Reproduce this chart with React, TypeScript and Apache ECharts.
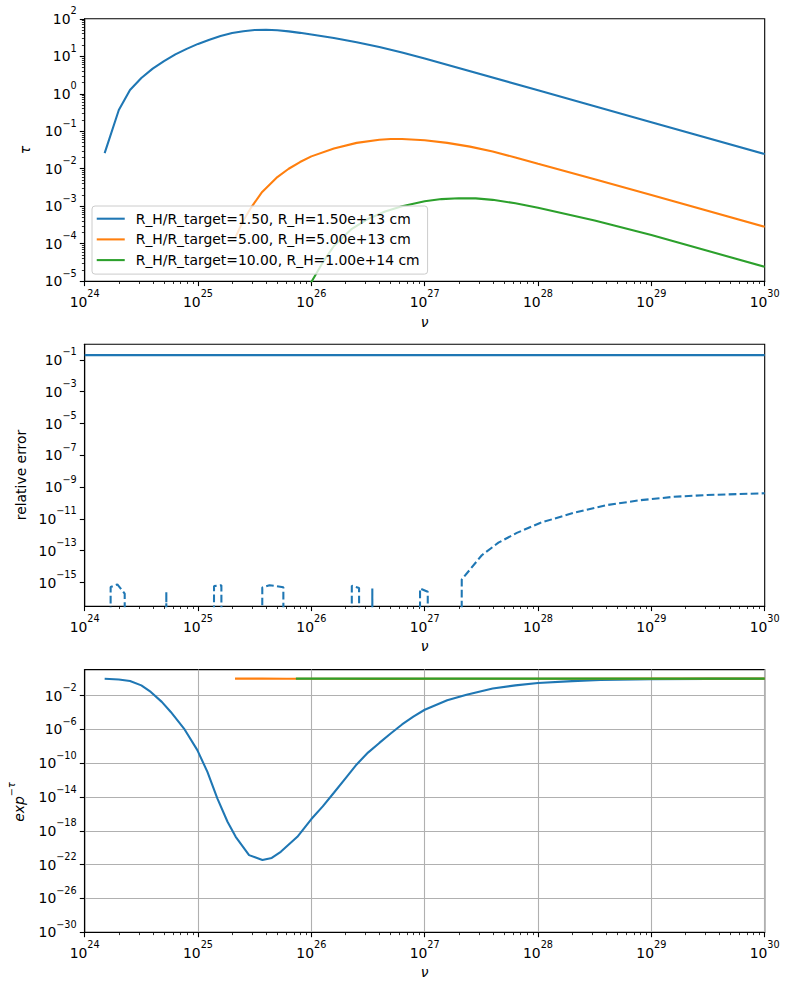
import React, { useEffect, useRef } from "react";
import * as echarts from "echarts";

const FONT = "DejaVu Sans";
const C0 = "#1f77b4";
const C1 = "#ff7f0e";
const C2 = "#2ca02c";

// ---------- optical depth tau(nu) ----------
const legendNames = [
  "R_H/R_target=1.50, R_H=1.50e+13 cm",
  "R_H/R_target=5.00, R_H=5.00e+13 cm",
  "R_H/R_target=10.00, R_H=1.00e+14 cm",
];

const nuTau1 = [1.5e24, 2.0e24, 2.51e24, 3.16e24, 3.98e24, 5.01e24, 6.31e24, 7.94e24, 1.0e25, 1.26e25, 1.58e25, 2.0e25, 2.51e25, 3.16e25, 3.98e25, 5.01e25, 6.31e25, 7.94e25, 1.0e26, 1.58e26, 2.51e26, 3.98e26, 6.31e26, 1.0e27, 1.0e28, 1.0e29, 1.0e30];
const tau1 = [0.026, 0.37, 1.26, 2.63, 4.68, 7.41, 11.2, 15.8, 21.4, 27.5, 34.7, 41.7, 46.8, 50.1, 51.3, 49.5, 46.2, 42.2, 38.0, 30.9, 23.7, 17.8, 12.6, 8.7, 1.24, 0.175, 0.0247];

const nuTau2 = [2.12e25, 2.51e25, 2.98e25, 3.68e25, 5.01e25, 6.31e25, 7.94e25, 1.0e26, 1.58e26, 2.51e26, 3.98e26, 5.01e26, 6.31e26, 1.0e27, 1.58e27, 2.51e27, 3.98e27, 6.31e27, 1.0e28, 3.16e28, 1.0e29, 1.0e30];
const tau2 = [1.41e-4, 4.17e-4, 9.8e-4, 2.4e-3, 6.0e-3, 0.01, 0.0151, 0.0214, 0.0347, 0.049, 0.0596, 0.0624, 0.0624, 0.0575, 0.049, 0.0389, 0.0288, 0.02, 0.0135, 5.25e-3, 2.0e-3, 2.83e-4];

const nuTau3 = [7.3e25, 1.0e26, 1.26e26, 1.58e26, 2.24e26, 3.16e26, 4.47e26, 6.31e26, 1.0e27, 1.41e27, 2.0e27, 2.82e27, 3.98e27, 6.31e27, 1.0e28, 3.16e28, 1.0e29, 1.0e30];
const tau3 = [6.3e-7, 9.55e-6, 3.16e-5, 8.7e-5, 2.4e-4, 4.57e-4, 7.24e-4, 1.0e-3, 1.35e-3, 1.55e-3, 1.64e-3, 1.62e-3, 1.48e-3, 1.2e-3, 9.1e-4, 4.17e-4, 1.7e-4, 2.42e-5];

// ---------- relative error ----------
const nuErrRef = [1.0e24, 1.0e30];
const errRef = [0.2, 0.2];

const nuErr = [
  1.5e24, 1.694e24, 1.941e24, 2.254e24, 2.57e24,
  4.57e24, 5.25e24, 6.03e24,
  1.2e25, 1.384e25, 1.607e25, 1.86e25,
  3.16e25, 3.69e25, 4.27e25, 4.9e25, 5.66e25, 6.46e25,
  1.95e26, 2.275e26, 2.636e26, 3.02e26, 3.45e26, 3.98e26,
  7.94e26, 9.1e26, 1.064e27, 1.23e27,
  1.82e27, 2.123e27, 3.19e27, 4.47e27, 6.5e27, 1.042e28, 2.05e28, 4.05e28, 7.96e28, 1.567e29, 3.09e29, 1.0e30,
];
const relErr = [
  0, 5.2e-16, 7.6e-16, 2.0e-16, 0,
  0, 2.6e-16, 0,
  0, 5.9e-16, 6.8e-16, 0,
  0, 4.9e-16, 6.8e-16, 6.0e-16, 5.0e-16, 0,
  0, 6.3e-16, 4.5e-16, 0, 4.2e-16, 0,
  0, 4.2e-16, 2.6e-16, 0,
  0, 1.55e-15, 5.2e-14, 3.2e-13, 1.32e-12, 5.6e-12, 2.4e-11, 7.4e-11, 1.5e-10, 2.45e-10, 3.2e-10, 4.1e-10,
];

// ---------- transmission exp(-tau) ----------
const nuExp1 = [1.5e24, 2.0e24, 2.51e24, 3.16e24, 3.83e24, 4.79e24, 5.75e24, 7.52e24, 9.86e24, 1.21e25, 1.48e25, 1.82e25, 2.15e25, 2.82e25, 3.7e25, 4.47e25, 5.37e25, 7.52e25, 1.0e26, 1.26e26, 1.58e26, 2.0e26, 2.51e26, 3.16e26, 3.98e26, 5.01e26, 6.31e26, 7.94e26, 1.0e27, 1.58e27, 2.34e27, 3.98e27, 6.31e27, 1.0e28, 2.0e28, 3.55e28, 1.0e29, 3.16e29, 1.0e30];
const exp1 = [0.975, 0.79, 0.52, 0.16, 0.027, 1.78e-3, 1.15e-4, 1.26e-6, 3.5e-9, 9.3e-12, 6.8e-15, 1.2e-17, 1.95e-19, 1.35e-21, 3.5e-22, 6.3e-22, 3.3e-21, 1.95e-19, 2.5e-17, 7.9e-16, 3.2e-14, 1.6e-12, 7.1e-11, 1.8e-9, 2.5e-8, 3.2e-7, 3.8e-6, 3.2e-5, 2.1e-4, 2.8e-3, 0.0126, 0.068, 0.16, 0.31, 0.51, 0.71, 0.84, 0.93, 0.975];

const nuExp2 = [2.12e25, 2.98e25, 3.68e25, 6.0e25, 9.8e25, 1.56e26, 3.1e26, 5.0e26, 1.2e27, 3.2e27, 1.0e28, 1.0e29, 1.0e30];
const exp2 = [0.99986, 0.999, 0.9976, 0.9907, 0.978, 0.966, 0.943, 0.939, 0.951, 0.969, 0.9875, 0.998, 0.99972];

const nuExp3 = [7.3e25, 1.0e26, 1.56e26, 3.1e26, 6.1e26, 1.2e27, 2.0e27, 4.6e27, 1.0e28, 1.0e29, 1.0e30];
const exp3 = [1.0, 0.99999, 0.99992, 0.99957, 0.99907, 0.9985, 0.99835, 0.99865, 0.99913, 0.99983, 0.99998];

// ---------- axis decades ----------
const xDecades = [24, 25, 26, 27, 28, 29];
const minorSubs = [2, 3, 4, 5, 6, 7, 8, 9];
const tauDecades = [-5, -4, -3, -2, -1, 0, 1];
const errTicks = [-15, -13, -11, -9, -7, -5, -3, -1];
const expTicks = [-30, -26, -22, -18, -14, -10, -6, -2];

const X_RANGE: [number, number] = [24, 30];
const TAU_RANGE: [number, number] = [-5, 2];
const ERR_RANGE: [number, number] = [-16.49, -0.01];
const EXP_RANGE: [number, number] = [-30, 1.07];

// a zero (exact agreement) has no logarithm; park it far below the axis so the
// segment drops straight out of the plot
const LOG_FLOOR = -300;

const toLogPairs = (xs: number[], ys: number[]) =>
  xs.map((x, i) => [Math.log10(x), ys[i] > 0 ? Math.log10(ys[i]) : LOG_FLOOR]);

const minorOf = (decades: number[]) => {
  const out: number[] = [];
  decades.forEach((d) => minorSubs.forEach((k) => out.push(d + Math.log10(k))));
  return out;
};

const powLabel = (v: number) => {
  const n = Math.round(v);
  const s = n < 0 ? "\u2212" + Math.abs(n) : String(n);
  return `{b|10}{e|${s}}`;
};

const RICH = {
  b: { fontFamily: FONT, fontSize: 13.9, color: "#000", lineHeight: 26 },
  e: { fontFamily: FONT, fontSize: 9.7, color: "#000", lineHeight: 13, verticalAlign: "top" },
};

const GRIDS = [
  { top: 18.8, height: 262.4 },
  { top: 344.2, height: 262.0 },
  { top: 669.6, height: 262.7 },
];

const LINE_W = 2.08;

function majorX(i: number, grid: boolean) {
  return {
    type: "value",
    gridIndex: i,
    min: X_RANGE[0],
    max: X_RANGE[1],
    interval: 1,
    position: "bottom",
    axisLine: { show: true, onZero: false, lineStyle: { color: "#000", width: 1.1 } },
    axisTick: { show: true, length: 4.9, lineStyle: { color: "#000", width: 1.1 } },
    axisLabel: {
      show: true,
      margin: 7.4,
      formatter: powLabel,
      rich: RICH,
      showMinLabel: true,
      showMaxLabel: true,
      hideOverlap: false,
    },
    splitLine: { show: grid, lineStyle: { color: "#b0b0b0", width: 1.1 } },
  };
}

function minorX(i: number) {
  return {
    type: "value",
    gridIndex: i,
    min: X_RANGE[0],
    max: X_RANGE[1],
    position: "bottom",
    axisLine: { show: false, onZero: false },
    axisLabel: { show: false },
    splitLine: { show: false },
    axisTick: {
      show: true,
      length: 2.8,
      customValues: minorOf(xDecades),
      lineStyle: { color: "#000", width: 0.8 },
    },
  };
}

function majorY(i: number, range: [number, number], ticks: number[] | null, grid: boolean) {
  const base: any = {
    type: "value",
    gridIndex: i,
    min: range[0],
    max: range[1],
    position: "left",
    axisLine: { show: true, onZero: false, lineStyle: { color: "#000", width: 1.1 } },
    axisTick: { show: true, length: 4.9, lineStyle: { color: "#000", width: 1.1 } },
    axisLabel: {
      show: true,
      margin: 8,
      formatter: powLabel,
      rich: RICH,
      showMinLabel: true,
      showMaxLabel: true,
      hideOverlap: false,
    },
    splitLine: { show: grid, lineStyle: { color: "#b0b0b0", width: 1.1 } },
  };
  if (ticks) {
    base.axisTick.customValues = ticks;
    base.axisLabel.customValues = ticks;
  } else {
    base.interval = 1;
  }
  return base;
}

function minorY(i: number, range: [number, number], decades: number[]) {
  return {
    type: "value",
    gridIndex: i,
    min: range[0],
    max: range[1],
    position: "left",
    axisLine: { show: false, onZero: false },
    axisLabel: { show: false },
    splitLine: { show: false },
    axisTick: {
      show: true,
      length: 2.8,
      customValues: minorOf(decades),
      lineStyle: { color: "#000", width: 0.8 },
    },
  };
}

function line(name: string, color: string, xAxisIndex: number, yAxisIndex: number, data: number[][], dashed = false) {
  return {
    type: "line",
    name,
    xAxisIndex,
    yAxisIndex,
    data,
    symbol: "none",
    showSymbol: false,
    clip: true,
    lineStyle: { color, width: LINE_W, type: dashed ? [7.7, 3.3] : "solid" },
    itemStyle: { color },
    emphasis: { disabled: true },
  };
}

function buildOption() {
  const txt = (text: string, x: number, y: number, rot: number, italic: boolean) => ({
    type: "text",
    x,
    y,
    rotation: rot,
    silent: true,
    style: {
      text,
      fontFamily: FONT,
      fontSize: 13.9,
      fontStyle: italic ? "italic" : "normal",
      fill: "#000",
      align: "center",
      verticalAlign: "middle",
    },
  });

  return {
    animation: false,
    backgroundColor: "#ffffff",
    textStyle: { fontFamily: FONT },
    grid: GRIDS.map((g) => ({
      left: 84.7,
      width: 680,
      top: g.top,
      height: g.height,
      show: true,
      borderColor: "#000",
      borderWidth: 1.1,
      backgroundColor: "transparent",
    })),
    xAxis: [majorX(0, false), minorX(0), majorX(1, false), minorX(1), majorX(2, true), minorX(2)],
    yAxis: [
      majorY(0, TAU_RANGE, null, false),
      minorY(0, TAU_RANGE, tauDecades),
      majorY(1, ERR_RANGE, errTicks, false),
      majorY(2, EXP_RANGE, expTicks, true),
    ],
    legend: {
      data: legendNames,
      orient: "vertical",
      left: 92,
      top: 206,
      itemWidth: 28,
      itemHeight: 14,
      itemGap: 6.7,
      padding: [5.7, 8, 7, 3.7],
      backgroundColor: "rgba(255,255,255,0.8)",
      borderColor: "#cccccc",
      borderWidth: 1,
      borderRadius: 3,
      selectedMode: false,
      // line-only legend keys: hide the marker that is drawn on top of the line
      itemStyle: { opacity: 0 },
      lineStyle: { width: 2.08 },
      textStyle: { fontFamily: FONT, fontSize: 13.9, color: "#000", lineHeight: 14, padding: [0, 0, 0, 6] },
    },
    series: [
      line(legendNames[0], C0, 0, 0, toLogPairs(nuTau1, tau1)),
      line(legendNames[1], C1, 0, 0, toLogPairs(nuTau2, tau2)),
      line(legendNames[2], C2, 0, 0, toLogPairs(nuTau3, tau3)),
      line("error reference", C0, 2, 2, toLogPairs(nuErrRef, errRef)),
      line("error", C0, 2, 2, toLogPairs(nuErr, relErr), true),
      line("exp 1.50", C0, 4, 3, toLogPairs(nuExp1, exp1)),
      line("exp 5.00", C1, 4, 3, toLogPairs(nuExp2, exp2)),
      line("exp 10.00", C2, 4, 3, toLogPairs(nuExp3, exp3)),
    ],
    graphic: [
      txt("\u03bd", 424.7, 321.5, 0, true),
      txt("\u03bd", 424.7, 646, 0, true),
      txt("\u03bd", 424.7, 971.5, 0, true),
      txt("\u03c4", 25, 150, Math.PI / 2, true),
      txt("relative error", 21.3, 475, Math.PI / 2, false),
      {
        type: "text",
        x: 18.5,
        y: 802,
        rotation: Math.PI / 2,
        silent: true,
        style: {
          text: "{i|exp}{s|\u2212\u03c4}",
          align: "center",
          verticalAlign: "middle",
          rich: {
            i: { fontFamily: FONT, fontSize: 13.9, fontStyle: "italic", fill: "#000", lineHeight: 24 },
            s: { fontFamily: FONT, fontSize: 9.7, fontStyle: "italic", fill: "#000", lineHeight: 12, verticalAlign: "top" },
          },
        },
      },
    ],
  };
}

export default function App() {
  const ref = useRef<HTMLDivElement>(null);
  useEffect(() => {
    if (!ref.current) return;
    const chart = echarts.init(ref.current, undefined, { renderer: "svg" });
    chart.setOption(buildOption() as any);
    return () => chart.dispose();
  }, []);
  return (
    <div
      ref={ref}
      style={{ position: "absolute", left: 0, top: 0, width: 790, height: 990, background: "#fff" }}
    />
  );
}
